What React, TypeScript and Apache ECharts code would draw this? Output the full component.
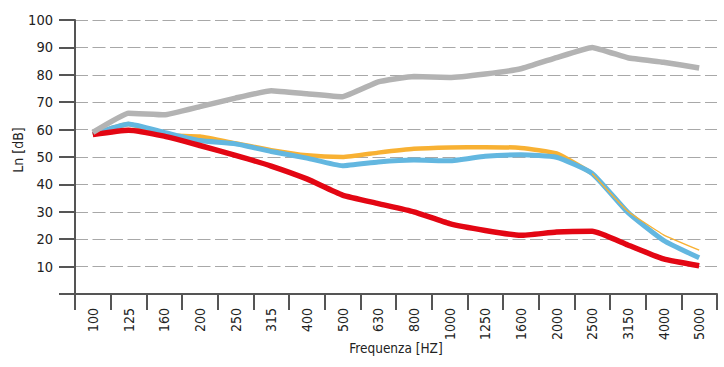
import React, { useEffect, useRef } from "react";
import * as echarts from "echarts";

const categories = ["100", "125", "160", "200", "250", "315", "400", "500", "630", "800", "1000", "1250", "1600", "2000", "2500", "3150", "4000", "5000"];
const grayValues = [59, 66, 65.4, 68.4, 71.5, 74.2, 73.1, 72, 77.4, 79.4, 79, 80.3, 82.2, 86.3, 90, 86.2, 84.6, 82.5];
const redValues = [58.2, 59.8, 57.6, 54.2, 50.6, 46.7, 42, 36.1, 33, 30, 25.7, 23.2, 21.4, 22.6, 22.9, 17.9, 12.8, 10.3];
const blueValues = [58.2, 62, 59, 56, 54.8, 52, 49.6, 46.8, 48.2, 48.9, 48.6, 50.3, 50.8, 49.9, 44, 29.8, 19.6, 13.2];
const orangeThick = [58.2, 62, 58, 57.5, 55, 52.5, 50.6, 50, 51.6, 53, 53.5, 53.6, 53.3, 51.3, 44, null, null, null];
const orangeThin = [null, null, null, null, null, null, null, null, null, null, null, null, null, null, 44, 30.2, 21.6, 16];
const yLabelsShown = [10, 20, 30, 40, 50, 60, 70, 80, 90, 100];

const FONT = "'Liberation Sans Narrow', 'DejaVu Sans Condensed', 'Open Sans', sans-serif";

export default function App() {
  const ref = useRef<HTMLDivElement>(null);
  useEffect(() => {
    if (!ref.current) return;
    const chart = echarts.init(ref.current, undefined, { renderer: "svg" });
    chart.setOption({
      animation: false,
      backgroundColor: "#ffffff",
      grid: { left: 75, right: 7, top: 20, bottom: 73, containLabel: false },
      xAxis: {
        type: "category",
        data: categories,
        boundaryGap: true,
        axisLine: { show: true, lineStyle: { color: "#555555", width: 2 } },
        axisTick: { show: true, length: 16, alignWithLabel: false, lineStyle: { color: "#555555", width: 2 } },
        axisLabel: { rotate: 90, margin: 14, fontSize: 14, color: "#222222", fontFamily: FONT, interval: 0 },
        splitLine: { show: false },
      },
      yAxis: {
        type: "value",
        min: 0,
        max: 100,
        interval: 10,
        axisLine: { show: true, lineStyle: { color: "#555555", width: 2 } },
        axisTick: { show: true, length: 16, lineStyle: { color: "#555555", width: 2 } },
        axisLabel: {
          margin: 22,
          fontSize: 14.5,
          color: "#222222",
          fontFamily: FONT,
          formatter: (v: number) => (yLabelsShown.includes(v) ? String(v) : ""),
        },
        splitLine: { show: true, lineStyle: { color: "#a8a8a8", width: 1.2, type: [13, 4.5] } },
      },
      graphic: [
        {
          type: "text",
          x: 18,
          y: 150,
          rotation: Math.PI / 2,
          style: { text: "Ln [dB]", fontSize: 14, fontFamily: FONT, fill: "#222222", textAlign: "center", textVerticalAlign: "middle" },
        },
        {
          type: "text",
          x: 396,
          y: 348,
          style: { text: "Frequenza [HZ]", fontSize: 13.5, fontFamily: FONT, fill: "#222222", textAlign: "center", textVerticalAlign: "middle" },
        },
      ],
      series: [
        { type: "line", data: orangeThick, symbol: "none", z: 2, lineStyle: { color: "#f8b133", width: 4.5 }, smooth: 0.15 },
        { type: "line", data: blueValues, symbol: "none", z: 3, lineStyle: { color: "#63b7e0", width: 5 }, smooth: 0.15 },
        { type: "line", data: orangeThin, symbol: "none", z: 4, lineStyle: { color: "#f8b133", width: 1.3 }, smooth: 0.1 },
        { type: "line", data: redValues, symbol: "none", z: 5, lineStyle: { color: "#e30613", width: 5.5 }, smooth: 0.15 },
        { type: "line", data: grayValues, symbol: "none", z: 6, lineStyle: { color: "#b3b3b3", width: 5.5 }, smooth: 0.1 },
      ],
    });
    return () => chart.dispose();
  }, []);
  return <div ref={ref} style={{ width: 724, height: 367, position: "absolute", left: 0, top: 0 }} />;
}
